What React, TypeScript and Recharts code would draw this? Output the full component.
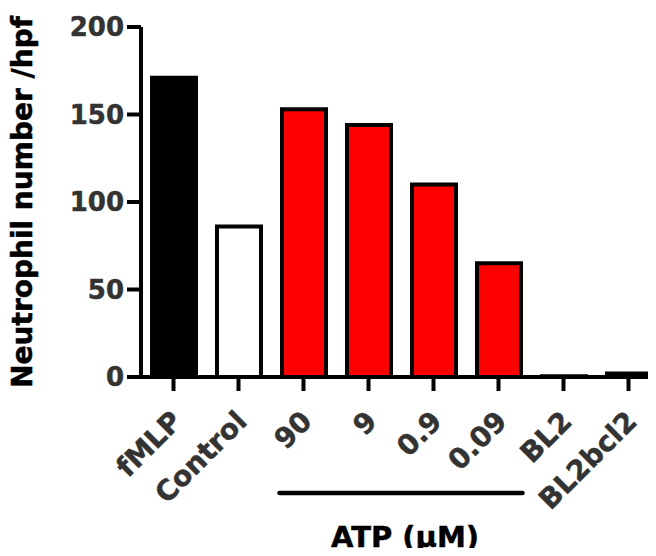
import React from 'react'
import { BarChart, Bar, XAxis, YAxis, Cell } from 'recharts'

// values
const categories = ['fMLP', 'Control', '90', '9', '0.9', '0.09', 'BL2', 'BL2bcl2']
const neutrophils = [171, 86, 153, 144, 110, 65, 0.5, 2]
const yTicks = [0, 50, 100, 150, 200]
const barFills = ['#000000', '#ffffff', '#ff0000', '#ff0000', '#ff0000', '#ff0000', '#000000', '#000000']

const data = categories.map((name, i) => ({ name, value: neutrophils[i] }))

const FONT = '"DejaVu Sans", sans-serif'
const CHART_W = 666
const CHART_H = 556
const PLOT_LEFT = 141
const PLOT_RIGHT_MARGIN = 5
const BAND = (CHART_W - PLOT_LEFT - PLOT_RIGHT_MARGIN) / categories.length
const BAR = 44

function XTick(props: any) {
  const { x, y, payload } = props
  const ax = x + 10
  const ay = y + 30
  return (
    <text
      x={ax}
      y={ay}
      transform={`rotate(-45 ${ax} ${ay})`}
      textAnchor="end"
      fill="#333"
      stroke="#333"
      strokeWidth={0.5}
      fontFamily={FONT}
      fontWeight="bold"
      fontSize={28}
    >
      {payload.value}
    </text>
  )
}

export default function App() {
  // ATP bracket spans the 90 .. 0.09 bars
  const lineX1 = PLOT_LEFT + 2 * BAND + (BAND - BAR) / 2 - 2
  const lineX2 = PLOT_LEFT + 6 * BAND - (BAND - BAR) / 2 + 2

  return (
    <div style={{ margin: -8, width: 656, height: 556, overflow: 'hidden', position: 'relative', background: '#fff' }}>
      <BarChart
        width={CHART_W}
        height={CHART_H}
        data={data}
        margin={{ top: 27, right: PLOT_RIGHT_MARGIN, bottom: 0, left: 0 }}
        barSize={BAR}
      >
        <XAxis
          dataKey="name"
          height={179}
          interval={0}
          axisLine={{ stroke: '#000', strokeWidth: 4 }}
          tickLine={{ stroke: '#000', strokeWidth: 4 }}
          tickSize={14}
          tick={<XTick />}
        />
        <YAxis
          width={PLOT_LEFT}
          domain={[0, 200]}
          ticks={yTicks}
          axisLine={{ stroke: '#000', strokeWidth: 4 }}
          tickLine={{ stroke: '#000', strokeWidth: 4 }}
          tickSize={14}
          tickMargin={3}
          tick={{ fill: '#333', stroke: '#333', strokeWidth: 0.5, fontFamily: FONT, fontWeight: 'bold', fontSize: 26 }}
        />
        <Bar dataKey="value" stroke="#000" strokeWidth={4} isAnimationActive={false}>
          {data.map((d, i) => (
            <Cell key={d.name} fill={barFills[i]} />
          ))}
        </Bar>
      </BarChart>
      <svg
        width={656}
        height={556}
        style={{ position: 'absolute', left: 0, top: 0, pointerEvents: 'none' }}
      >
        <text
          x={32}
          y={202}
          transform="rotate(-90 32 202)"
          textAnchor="middle"
          fontFamily={FONT}
          fontWeight="bold"
          fontSize={28}
          fill="#000"
          stroke="#000"
          strokeWidth={0.5}
        >
          Neutrophil number /hpf
        </text>
        <line x1={lineX1} y1={493} x2={lineX2} y2={493} stroke="#000" strokeWidth={4.5} strokeLinecap="round" />
        <text
          x={(lineX1 + lineX2) / 2 + 4}
          y={547}
          textAnchor="middle"
          fontFamily={FONT}
          fontWeight="bold"
          fontSize={29}
          fill="#000"
          stroke="#000"
          strokeWidth={0.5}
        >
          ATP (µM)
        </text>
      </svg>
    </div>
  )
}
